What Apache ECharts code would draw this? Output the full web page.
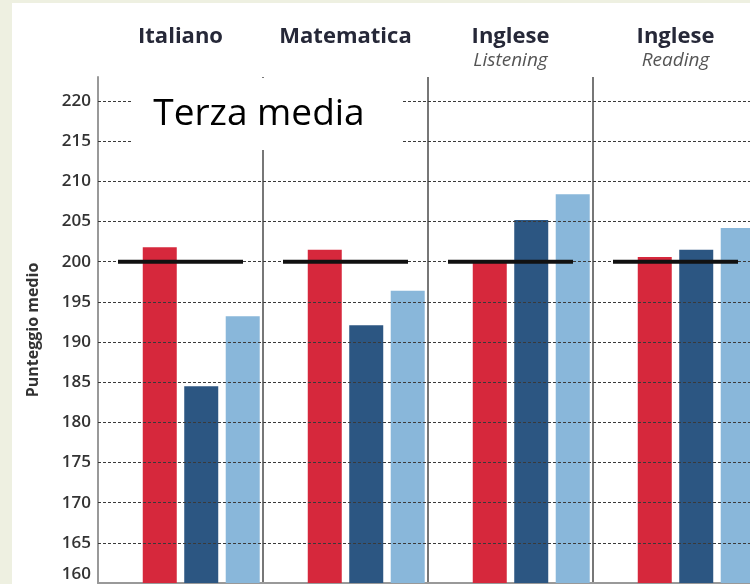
<!DOCTYPE html>
<html>
<head>
<meta charset="utf-8">
<script src="https://cdn.jsdelivr.net/npm/echarts@6/dist/echarts.min.js"></script>
<style>
  html, body { margin: 0; padding: 0; background: #eef0e1; }
  #chart { position: absolute; left: 12px; top: 3px; width: 738px; height: 581px; background: #fff; }
</style>
</head>
<body>
<div id="chart"></div>
<script>
  // categorie (titolo | sottotitolo)
  const categories = ['Italiano', 'Matematica', 'Inglese Listening', 'Inglese Reading']
  const yTicks = [160, 165, 170, 175, 180, 185, 190, 195, 200, 205, 210, 215, 220]

  const serieRossa = [201.8, 201.5, 199.9, 200.6]
  const serieBlu = [184.5, 192.1, 205.2, 201.5]
  const serieAzzurra = [193.2, 196.4, 208.4, 204.2]
  const mediaNazionale = [200, 200, 200, 200]

  const font = '"Open Sans", sans-serif'
  const chart = echarts.init(document.getElementById('chart'))

  chart.setOption({
    animation: false,
    grid: {
      left: 86,
      top: 74,
      width: 660,
      height: 506,
      outerBoundsMode: 'none'
    },
    xAxis: [{
      type: 'category',
      position: 'top',
      data: categories,
      axisLine: { show: false },
      axisTick: { show: false },
      axisLabel: {
        interval: 0,
        margin: 4,
        formatter: function (v) {
          const i = v.indexOf(' ')
          const t = i < 0 ? v : v.slice(0, i)
          const s = i < 0 ? ' ' : v.slice(i + 1)
          return '{t|' + t + '}\n{s|' + s + '}'
        },
        rich: {
          t: { fontFamily: font, fontSize: 22, fontWeight: 'bold', color: '#262838', lineHeight: 24 },
          s: { fontFamily: font, fontSize: 19, fontStyle: 'italic', color: '#555', lineHeight: 24 }
        }
      },
      splitLine: {
        show: true,
        lineStyle: { color: '#777', width: 2 }
      }
    }, {
      type: 'category',
      position: 'bottom',
      data: categories,
      axisLine: { lineStyle: { color: '#999', width: 2 } },
      axisTick: { show: false },
      axisLabel: { show: false }
    }],
    yAxis: {
      type: 'value',
      min: yTicks[0],
      max: 223,
      interval: 5,
      name: 'Punteggio medio',
      nameLocation: 'middle',
      nameGap: 57,
      nameTextStyle: { fontFamily: font, fontSize: 16, fontWeight: 'bold', color: '#333' },
      axisLine: { show: true, lineStyle: { color: '#999', width: 2 } },
      axisTick: { show: false },
      axisLabel: {
        margin: 7,
        showMaxLabel: false,
        verticalAlignMinLabel: 'bottom',
        fontFamily: font,
        fontSize: 17,
        fontWeight: 600,
        color: '#333'
      },
      splitLine: { show: false }
    },
    series: [
      // serie vuota: sposta il gruppo di barre a destra
      { type: 'bar', name: '', barWidth: 34, data: categories.map(() => '-') },
      { type: 'bar', name: 'A', barWidth: 34, data: serieRossa, itemStyle: { color: '#d6283c' } },
      { type: 'bar', name: 'B', barWidth: 34, data: serieBlu, itemStyle: { color: '#2c5682' } },
      {
        type: 'bar',
        name: 'C',
        barWidth: 34,
        barGap: '22%',
        data: serieAzzurra,
        itemStyle: { color: '#89b7da' },
        // griglia tratteggiata disegnata sopra le barre
        markLine: {
          silent: true,
          symbol: 'none',
          label: { show: false },
          lineStyle: { color: '#3a3a3a', width: 1.2, type: [3, 2] },
          data: yTicks.slice(1).map(v => ({ yAxis: v }))
        }
      },
      {
        type: 'scatter',
        name: 'Media',
        data: mediaNazionale,
        symbol: 'rect',
        symbolSize: [125, 4],
        z: 10,
        itemStyle: { color: '#111', opacity: 1 }
      }
    ],
    graphic: [{
      type: 'group',
      children: [{
        type: 'rect',
        shape: { x: 121, y: 75, width: 270, height: 72 },
        style: { fill: '#fff' },
        z: 100
      }, {
        type: 'text',
        z: 101,
        style: {
          x: 247,
          y: 111,
          text: 'Terza media',
          font: '37px "Open Sans", sans-serif',
          fill: '#000',
          align: 'center',
          verticalAlign: 'middle'
        }
      }]
    }]
  })
</script>
</body>
</html>
